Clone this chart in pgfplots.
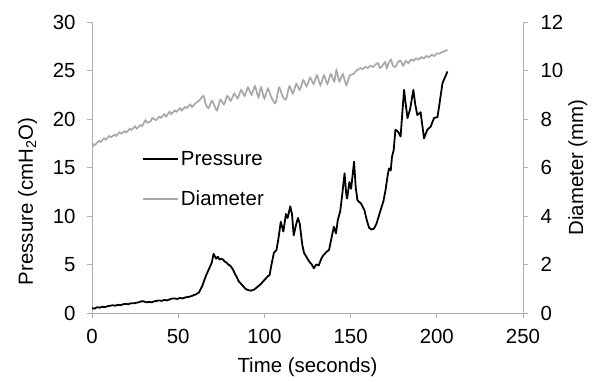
\documentclass[border=0pt]{standalone}
\usepackage{pgfplots}
\pgfplotsset{compat=1.18}
\usepackage{fontspec}
\setmainfont{Liberation Sans}
\definecolor{axgray}{HTML}{B0B0B0}
\definecolor{dgray}{HTML}{A8A8A8}
\pgfplotsset{
  common/.style={
    scale only axis, width=431bp, height=291bp,
    xmin=0, xmax=250,
    font=\fontsize{20.5}{24}\selectfont,
    tick label style={font=\fontsize{20.5}{24}\selectfont},
    /pgf/number format/assume math mode=true,
    axis line style={axgray, line width=0.9bp, -},
    tick style={axgray, line width=0.9bp},
    tick align=outside, major tick length=5bp,
  }
}
\begin{document}
\begin{tikzpicture}
\begin{axis}[common,
  ymin=0, ymax=30,
  xtick={0,50,100,150,200,250},
  ytick={0,5,10,15,20,25,30},
  axis x line*=bottom, axis y line*=left,
  xticklabel style={yshift=-8bp},
  yticklabel style={xshift=-8bp},
  xlabel={Time (seconds)},
  xlabel style={at={(axis description cs:0.5,0)}, anchor=base, yshift=-59bp},
  ylabel={Pressure (cmH\textsubscript{2}O)},
  ylabel style={at={(axis description cs:0,0.5)}, anchor=base, yshift=59bp, xshift=-34bp},
]
\addplot[black, line width=1.8bp, line join=round] coordinates {
(0,0.5)(1.5,0.45)(3,0.6)(4.5,0.55)(6,0.65)(7.5,0.6)(9,0.7)(10.5,0.75)(12,0.8)(13.5,0.75)(15,0.85)(16.5,0.8)(18,0.9)(19.5,0.95)(21,0.9)(22.5,1.0)(24,1.0)(25.5,1.05)(27,1.1)(28.5,1.2)(30,1.2)(31.5,1.1)(33,1.15)(34.5,1.1)(36,1.2)(37.5,1.25)(39,1.3)(40.5,1.25)(42,1.35)(43.5,1.3)(45,1.4)(46.5,1.5)(48,1.5)(49.5,1.45)(51,1.55)(52.5,1.5)(54,1.6)(55.5,1.65)(57,1.7)(58.5,1.8)(60,1.9)(62,2.1)(64,2.8)(66,3.8)(68,4.6)(69.5,5.2)(70.5,6.1)(72,5.6)(73,5.8)(74,5.5)(75,5.6)(76,5.5)(77,5.3)(78,5.2)(79,5.0)(80,4.9)(81,4.7)(82,4.4)(83,4.0)(84,3.7)(85,3.3)(86,3.1)(87,2.9)(88,2.7)(89,2.5)(90,2.4)(92,2.3)(94,2.4)(96,2.7)(98,3.0)(100,3.4)(102,3.8)(103,3.9)(104,4.9)(105.5,6.2)(107,6.5)(108,7.5)(109.5,9.4)(111,8.4)(112.5,10.2)(113.5,9.8)(115,11.0)(116,10.2)(117,8.0)(118.5,9.2)(119.5,9.8)(120.5,9.2)(122,7.0)(123,6.2)(125,5.6)(126,5.3)(127.5,5.0)(128.7,4.6)(130,5.0)(131.5,4.9)(133,5.6)(134,5.9)(136,6.3)(137.5,6.5)(139,7.8)(140.3,8.9)(141.5,8.2)(142.6,9.6)(144,10.5)(145,12.0)(146.5,14.4)(147.5,12.2)(148,11.8)(149.3,13.5)(150.3,12.8)(152,15.6)(153,12.9)(154,11.6)(156,11.3)(158,10.6)(159.5,9.5)(160.7,8.8)(162,8.6)(163.6,8.7)(165,9.2)(167.4,10.6)(169,11.5)(170.3,12.7)(171.5,14.2)(172.3,14.9)(173.3,14.7)(174,16.1)(175,16.8)(176,18.9)(177.5,18.7)(179,18.2)(181,23.0)(182,21.5)(183,20.1)(184.5,21.0)(186.4,23.0)(187.5,21.5)(188.7,20.4)(190.6,20.7)(192.6,18.0)(194.5,18.9)(196.4,19.2)(198.4,20.1)(200.4,20.2)(201.5,21.5)(203.3,23.7)(205,24.4)(206.2,24.9)
};
\end{axis}
\begin{axis}[common,
  ymin=0, ymax=12,
  ytick={0,2,4,6,8,10,12},
  axis x line=none, axis y line*=right,
  yticklabel style={xshift=9bp},
  ylabel={Diameter (mm)},
  ylabel style={at={(axis description cs:1,0.5)}, anchor=base, yshift=-60bp},
  legend style={draw=none, fill=none, at={(rel axis cs:0.116,0.563)}, anchor=north west, inner sep=0pt, row sep=20bp, font=\fontsize{20.5}{24}\selectfont},
  legend cell align=left,
  legend image code/.code={\draw[#1] (0bp,0bp) -- (35bp,0bp);},
]
\addlegendimage{black, line width=1.8bp}
\addlegendentry{Pressure}
\addplot[dgray, line width=1.7bp, smooth, tension=0.4] coordinates {
(0,7.05)(1,6.9)(2,6.95)(4,7.1)(5,7.05)(7,7.2)(8,7.15)(10,7.3)(11,7.25)(13,7.35)(14,7.3)(16,7.45)(17,7.4)(19,7.5)(20,7.45)(22,7.6)(23,7.55)(25,7.7)(26,7.6)(28,7.75)(29,7.7)(31,7.95)(32,7.85)(34,7.9)(35,8.05)(37,7.95)(39,8.1)(40,8.05)(42,8.2)(43,8.1)(45,8.3)(46,8.2)(48,8.35)(49,8.3)(51,8.45)(52,8.35)(54,8.5)(55,8.45)(57,8.6)(58,8.5)(60,8.65)(62,8.75)(64.7,8.95)(66,8.6)(67.6,8.45)(69.5,8.75)(71,8.55)(72.5,8.35)(74.5,8.8)(76.5,8.6)(78.5,8.95)(80.5,8.75)(82.5,9.05)(84.5,8.85)(86.5,9.2)(88.5,8.95)(90.5,9.3)(92.5,9.0)(94.5,9.35)(96.5,8.9)(98,9.3)(100,8.85)(102,9.25)(104,8.9)(106.4,8.65)(108.5,9.3)(110.5,8.95)(112.5,8.8)(114.5,9.35)(116.5,9.05)(118.5,9.45)(120.5,9.2)(122.5,9.6)(124.5,9.35)(126.5,9.7)(128.5,9.45)(130.5,9.8)(132.5,9.4)(134.5,9.8)(136.5,9.45)(138.5,9.85)(140.5,9.55)(141.8,10.0)(143.5,9.55)(145.5,9.85)(147.5,9.4)(149.5,9.8)(151.5,9.85)(153.5,10.0)(155.8,10.1)(157,10.05)(158.5,10.15)(160,10.1)(161.5,10.2)(163,10.15)(164.5,10.25)(166,10.3)(167,10.1)(168.5,10.2)(170,10.35)(171,10.1)(172,10.3)(173.4,10.45)(174.5,10.2)(176,10.15)(177.5,10.35)(179,10.4)(180.5,10.2)(182,10.4)(183.5,10.3)(185,10.45)(186.5,10.4)(188,10.5)(189.5,10.45)(191,10.55)(192.5,10.5)(194,10.6)(195.5,10.55)(197,10.65)(198.5,10.6)(200,10.7)(201.5,10.7)(203,10.75)(204.5,10.8)(206.2,10.85)
};
\addlegendentry{Diameter}
\end{axis}
\pgfresetboundingbox
\path[use as bounding box] (current axis.south west) ++(-92bp,-69bp) rectangle ++(596bp,382bp);
\end{tikzpicture}
\end{document}
